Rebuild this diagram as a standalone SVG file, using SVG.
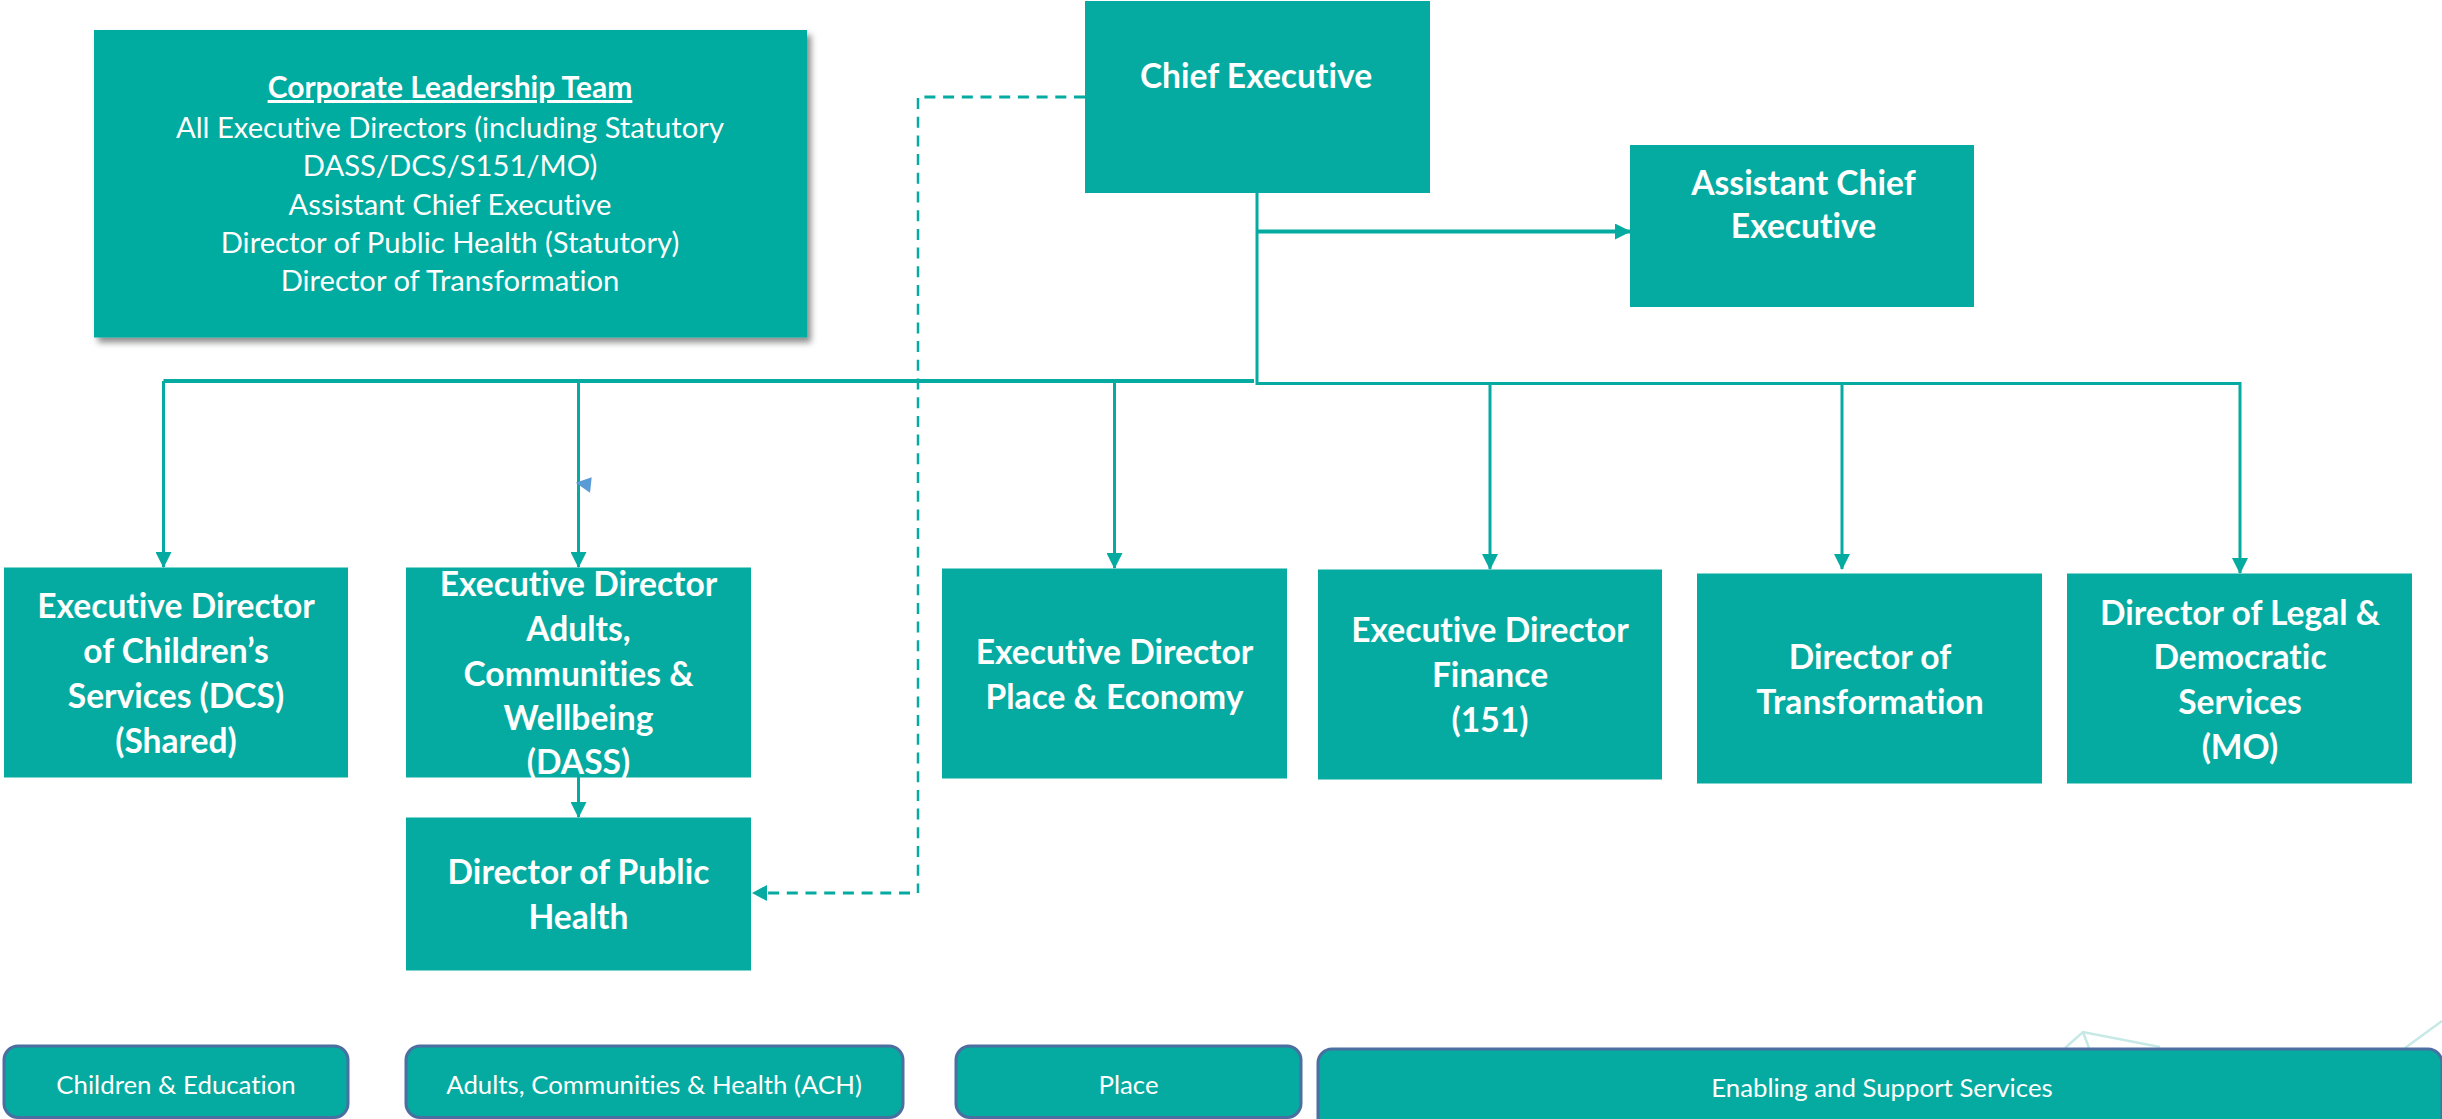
<svg xmlns="http://www.w3.org/2000/svg" width="2442" height="1119" viewBox="0 0 2442 1119">
<style>
.box{fill:#05ABA0}
.band{fill:#05ABA0;stroke:#4A6FA0;stroke-width:3}
text{fill:#fff;font-family:"Lato","Open Sans",sans-serif;text-anchor:middle;font-variant-ligatures:none}
.b{font-weight:700;font-size:33.6px}
.r{font-size:29.2px}
.t{font-size:30px;font-weight:700;text-decoration:underline}
.s{font-size:25.8px}
.ln{fill:none;stroke:#05ABA0;stroke-width:3}
.th{stroke-width:4}
.dash{stroke-dasharray:11 7.700}
.ghost{fill:none;stroke:#C6E9E5;stroke-width:2.500}
</style>
<defs>
<marker id="ah" markerUnits="userSpaceOnUse" markerWidth="16" markerHeight="16" refX="15" refY="8" orient="auto"><path d="M0 0L16 8L0 16Z" fill="#05ABA0"/></marker>
<filter id="sh" x="-5%" y="-5%" width="112%" height="115%"><feDropShadow dx="4" dy="5" stdDeviation="3" flood-color="#000" flood-opacity="0.45"/></filter>
</defs>
<g id="background-marks">
<path class="ghost" d="M2065 1048L2083 1032L2160 1047M2083 1032L2089 1048M2405 1048L2442 1021"/>
</g>
<g id="connectors">
<path class="ln dash" d="M1085 97H921"/>
<path class="ln dash" style="stroke-width:2.500" d="M918 98V893"/>
<path class="ln dash" d="M910 893H767"/>
<path d="M767 885V901L752 893Z" fill="#05ABA0"/>
<path class="ln" d="M1257 193V383.500H2240V573" marker-end="url(#ah)"/>
<path class="ln th" d="M1254 381H163.500"/>
<path class="ln" d="M163.500 381V567" marker-end="url(#ah)"/>
<path class="ln" d="M578.500 381V567" marker-end="url(#ah)"/>
<path class="ln" d="M1114.500 381V568" marker-end="url(#ah)"/>
<path class="ln" d="M1490 383.500V569" marker-end="url(#ah)"/>
<path class="ln" d="M1842 383.500V569" marker-end="url(#ah)"/>
<path class="ln th" d="M1257 231.500H1630" marker-end="url(#ah)"/>
<path class="ln" d="M578.500 777V817" marker-end="url(#ah)"/>
<path d="M575.700 482.700L591.700 477.300L590 492.700Z" fill="#5B9BD5"/>
</g>
<g id="clt">
<rect class="box" x="94" y="30" width="713" height="307.500" filter="url(#sh)"/>
<text class="t" x="450" y="98">Corporate Leadership Team</text>
<text class="r" x="450" y="137.500">All Executive Directors (including Statutory</text>
<text class="r" x="450" y="176">DASS/DCS/S151/MO)</text>
<text class="r" x="450" y="214.500">Assistant Chief Executive</text>
<text class="r" x="450" y="253">Director of Public Health (Statutory)</text>
<text class="r" x="450" y="291">Director of Transformation</text>
</g>
<g id="chief">
<rect class="box" x="1085" y="1" width="345" height="192"/>
<text class="b" x="1256" y="88">Chief Executive</text>
</g>
<g id="ace">
<rect class="box" x="1630" y="145" width="344" height="162"/>
<text class="b" x="1803.500" y="194.500">Assistant Chief</text>
<text class="b" x="1803.500" y="238">Executive</text>
</g>
<g id="dcs">
<rect class="box" x="4" y="567.500" width="344" height="210"/>
<text class="b" x="176" y="618">Executive Director</text>
<text class="b" x="176" y="663">of Children’s</text>
<text class="b" x="176" y="708">Services (DCS)</text>
<text class="b" x="176" y="753">(Shared)</text>
</g>
<g id="dass">
<rect class="box" x="406" y="567.500" width="345" height="210"/>
<text class="b" x="578.500" y="596">Executive Director</text>
<text class="b" x="578.500" y="641">Adults,</text>
<text class="b" x="578.500" y="686">Communities &amp;</text>
<text class="b" x="578.500" y="730">Wellbeing</text>
<text class="b" x="578.500" y="774">(DASS)</text>
</g>
<g id="public-health">
<rect class="box" x="406" y="817.500" width="345" height="153"/>
<text class="b" x="578.500" y="884">Director of Public</text>
<text class="b" x="578.500" y="929">Health</text>
</g>
<g id="place-economy">
<rect class="box" x="942" y="568.500" width="345" height="210"/>
<text class="b" x="1114.500" y="664">Executive Director</text>
<text class="b" x="1114.500" y="709">Place &amp; Economy</text>
</g>
<g id="finance">
<rect class="box" x="1318" y="569.500" width="344" height="210"/>
<text class="b" x="1490" y="642">Executive Director</text>
<text class="b" x="1490" y="687">Finance</text>
<text class="b" x="1490" y="732">(151)</text>
</g>
<g id="transformation">
<rect class="box" x="1697" y="573.500" width="345" height="210"/>
<text class="b" x="1870" y="669">Director of</text>
<text class="b" x="1870" y="714">Transformation</text>
</g>
<g id="legal">
<rect class="box" x="2067" y="573.500" width="345" height="210"/>
<text class="b" x="2240" y="624.500">Director of Legal &amp;</text>
<text class="b" x="2240" y="669">Democratic</text>
<text class="b" x="2240" y="714">Services</text>
<text class="b" x="2240" y="759">(MO)</text>
</g>
<g id="band-children">
<rect class="band" x="4" y="1046" width="344" height="71.500" rx="14"/>
<text class="s" x="176" y="1093.500">Children &amp; Education</text>
</g>
<g id="band-ach">
<rect class="band" x="406" y="1046" width="497" height="71.500" rx="14"/>
<text class="s" x="654" y="1093.500">Adults, Communities &amp; Health (ACH)</text>
</g>
<g id="band-place">
<rect class="band" x="956" y="1046" width="345" height="71.500" rx="14"/>
<text class="s" x="1128.500" y="1093.500">Place</text>
</g>
<g id="band-enabling">
<rect class="band" x="1318" y="1049" width="1124" height="90" rx="14"/>
<text class="s" x="1882" y="1097">Enabling and Support Services</text>
</g>
</svg>
